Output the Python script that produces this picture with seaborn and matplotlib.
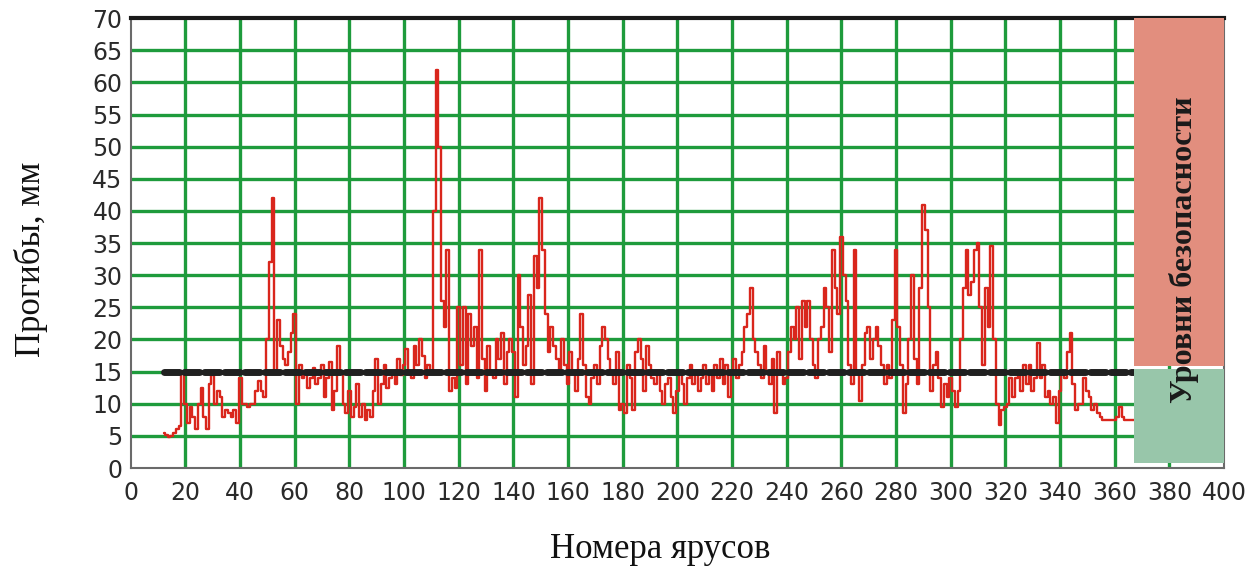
import numpy as np
import pandas as pd
import matplotlib
matplotlib.use("Agg")
import matplotlib.pyplot as plt
from matplotlib import font_manager
import seaborn as sns

# ---------------- data ----------------
tier_start = 12
deflection = [
    5.5, 5.2, 4.8, 5.0, 5.5, 6.0, 6.5, 15.0,                    # 12-19
    10, 7, 9.5, 8, 6, 10, 12.5, 8, 6, 13,                        # 20-29
    14.5, 10, 12, 11, 8, 9, 8.5, 8, 9, 7,                        # 30-39
    14, 10, 10, 9.5, 10, 10, 12, 13.5, 12, 11,                   # 40-49
    20, 32, 42, 15, 23, 19, 17, 16, 18, 21,                      # 50-59
    24, 10, 16, 14, 15, 12.5, 14, 15.5, 13, 14,                  # 60-69
    16, 11, 14, 16.5, 9, 12, 19, 15, 10, 8.5,                    # 70-79
    12, 8, 9.5, 13, 8, 10, 7.5, 9, 8, 12,                        # 80-89
    17, 10, 13, 16, 12.5, 14, 15, 13, 17, 14.5,                  # 90-99
    16, 18.5, 15, 14, 19, 16, 20, 17.5, 14, 16,                  # 100-109
    15, 40, 62, 50, 26, 22, 34, 12, 14, 12.5,                    # 110-119
    25, 16, 25, 13, 24, 19, 22, 14, 34, 17,                      # 120-129
    12, 19, 15, 14, 20, 17, 21, 13, 18, 20,                      # 130-139
    18, 11, 30, 22, 16, 19, 27, 13, 33, 28,                      # 140-149
    42, 34, 24, 18, 22, 19, 17, 15, 20, 16,                      # 150-159
    13, 18, 15, 12, 17, 24, 16, 11, 10, 14,                      # 160-169
    16, 13, 19, 22, 20, 17, 15, 13, 18, 9,                       # 170-179
    10, 8.5, 16, 14, 9, 18, 20, 17, 12, 19,                      # 180-189
    16, 14, 13, 15, 12, 10, 13, 14, 11, 8.5,                     # 190-199
    12, 15, 13, 10, 14, 16, 13, 15, 12, 14,                      # 200-209
    16, 13, 15, 12, 16, 14, 17, 13, 16, 11,                      # 210-219
    15, 17, 14, 16, 18, 22, 24, 28, 20, 18,                      # 220-229
    16, 14, 19, 15, 13, 17, 8.5, 18, 15, 13,                     # 230-239
    14, 18, 22, 20, 25, 17, 26, 22, 26, 20,                      # 240-249
    16, 14, 20, 22, 28, 25, 18, 34, 28, 24,                      # 250-259
    36, 30, 26, 16, 13, 34, 15, 10.5, 16, 21,                    # 260-269
    22, 17, 20, 22, 19, 16, 13, 16, 14, 23,                      # 270-279
    34, 22, 16, 8.5, 13, 20, 30, 17, 13, 28,                     # 280-289
    41, 37, 25, 12, 16, 18, 14, 9.5, 13, 11,                     # 290-299
    14, 12, 9.5, 12, 20, 28, 34, 27, 29, 34,                     # 300-309
    35, 25, 16, 28, 22, 34.5, 20, 10, 6.7, 9,                    # 310-319
    9.5, 10, 14, 11, 14, 15, 12, 16, 13, 16,                     # 320-329
    12, 14, 19.5, 14, 16, 11, 12, 10, 11, 7,                     # 330-339
    12, 15, 14, 18, 21, 13, 9, 10, 10, 14,                       # 340-349
    12, 11, 9, 10, 8.5, 8, 7.5, 7.5, 7.5, 7.5,                   # 350-359
    7.5, 8, 9.5, 8, 7.5, 7.5, 7.5, 7.5,                          # 360-367
]
threshold_value = 15
safety_levels = [0.8, 15.6, 70]      # bottom of green, boundary, top of red
x_ticks = list(range(0, 401, 20))
y_ticks = list(range(0, 71, 5))
x_label = "Номера ярусов"
y_label = "Прогибы, мм"
box_label = "Уровни безопасности"

tiers = np.arange(tier_start, tier_start + len(deflection))
df = pd.DataFrame({"tier": tiers, "deflection": deflection})
df_thr = pd.DataFrame({"tier": [tiers[0], tiers[-1]],
                       "level": [threshold_value, threshold_value]})

# ---------------- style ----------------
sns.set_theme(style="white")
names = {f.name for f in font_manager.fontManager.ttflist}
tick_font = "Liberation Sans Narrow" if "Liberation Sans Narrow" in names else "DejaVu Sans"
plt.rcParams["font.family"] = ["Liberation Serif", "DejaVu Serif"]

fig = plt.figure(figsize=(12.58, 5.69), dpi=100)
ax = fig.add_axes([0.104, 0.1775, 0.869, 0.7905])

grid_color = "#1e9b3c"
box_left = tiers[-1]
ax.set_xlim(0, 400)
ax.set_ylim(0, 70)

for xv in x_ticks[1:-1]:
    ax.axvline(xv, color=grid_color, lw=2.4, zorder=1)
for yv in y_ticks[1:-1]:
    ax.axhline(yv, color=grid_color, lw=2.4, zorder=1)

sns.lineplot(data=df, x="tier", y="deflection", ax=ax, color="#d9261c",
             lw=1.7, drawstyle="steps-mid", zorder=3, legend=False)
sns.lineplot(data=df_thr, x="tier", y="level", ax=ax, color="#202020",
             lw=5, zorder=4, legend=False, dashes=False,
             linestyle=(0, (2.2, 0.7)), dash_capstyle="round")

# safety-level box
ax.axvspan(box_left, 400, ymin=safety_levels[1] / 70 + 0.003, ymax=1,
           facecolor="#e28e7e", edgecolor="none", zorder=5)
ax.axvspan(box_left, 400, ymin=safety_levels[0] / 70,
           ymax=safety_levels[1] / 70 - 0.003,
           facecolor="#98c6aa", edgecolor="none", zorder=5)
ax.text((box_left + 400) / 2 + 2, 34, box_label, rotation=90,
        ha="center", va="center", fontsize=23, fontweight="bold",
        color="#1a1a1a", zorder=6)

ax.set_xticks(x_ticks)
ax.set_yticks(y_ticks)
ax.tick_params(length=0, labelsize=17, labelcolor="#2a2a2a")
ax.tick_params(axis="x", pad=9)
ax.tick_params(axis="y", pad=6)
for lab in ax.get_xticklabels() + ax.get_yticklabels():
    lab.set_fontfamily(tick_font)

for side in ["left", "bottom", "right"]:
    ax.spines[side].set_color("#6a6a6a")
    ax.spines[side].set_linewidth(1.5)
ax.spines["top"].set_color("#1a1a1a")
ax.spines["top"].set_linewidth(3)

ax.set_xlabel("")
ax.set_ylabel("")
fig.text(0.525, 0.035, x_label, ha="center", va="center", fontsize=25, color="#111111")
fig.text(0.025, 0.545, y_label, ha="center", va="center", rotation=90,
         fontsize=25, color="#111111")

fig.savefig("out.png", dpi=100, facecolor="white")
